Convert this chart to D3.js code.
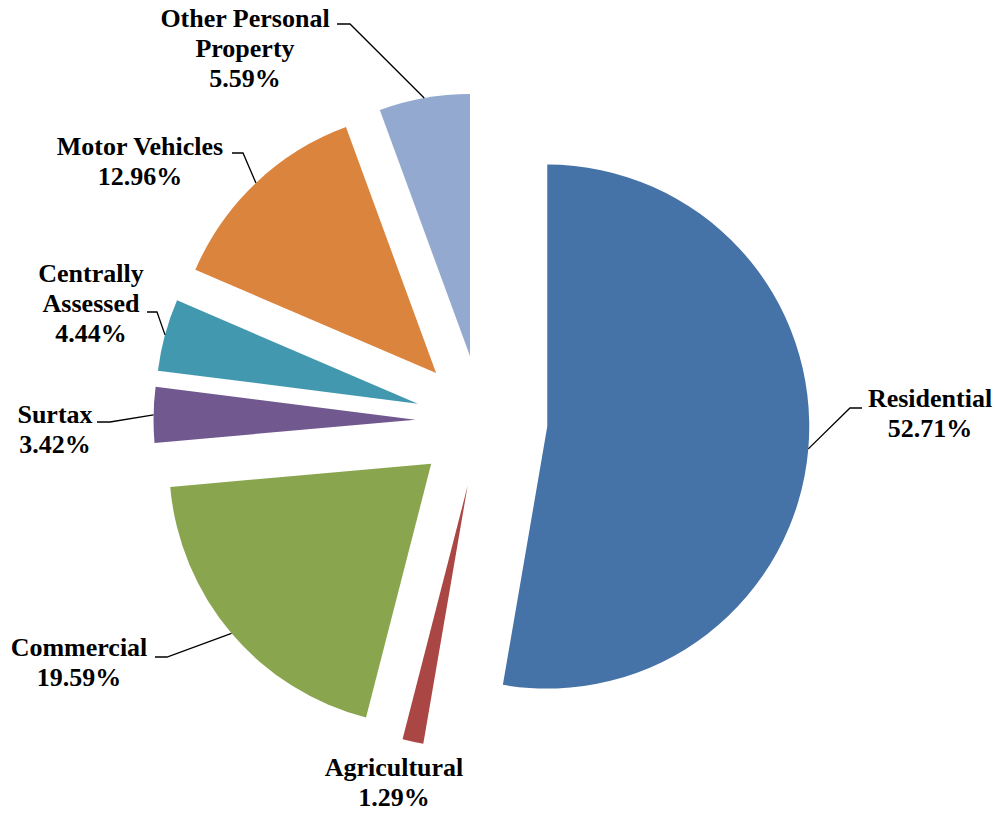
<!DOCTYPE html>
<html>
<head>
<meta charset="utf-8">
<script src="https://cdn.jsdelivr.net/npm/d3@7"></script>
<style>
  body { margin: 0; background: #fff; }
</style>
</head>
<body>
<div id="chart"></div>
<script>
const categories = ['Residential', 'Agricultural', 'Commercial', 'Surtax', 'Centrally Assessed', 'Motor Vehicles', 'Other Personal Property'];
const shares = [52.71, 1.29, 19.59, 3.42, 4.44, 12.96, 5.59];
const labelLines = [
  ['Residential', '52.71%'],
  ['Agricultural', '1.29%'],
  ['Commercial', '19.59%'],
  ['Surtax', '3.42%'],
  ['Centrally', 'Assessed', '4.44%'],
  ['Motor Vehicles', '12.96%'],
  ['Other Personal', 'Property', '5.59%']
];
const colors = ['#4572A7', '#AA4643', '#89A54E', '#71588F', '#4198AF', '#DB843D', '#93A9CF'];

// label placement (Excel style), stub = short horizontal start of leader line
const labelPos = [
  { x: 930, y: 407, stub: [862, 850, 408] },
  { x: 394, y: 776, stub: null },
  { x: 79, y: 656, stub: [155, 167, 657] },
  { x: 55, y: 423, stub: [97, 110, 422] },
  { x: 91, y: 282, stub: [147, 157, 312] },
  { x: 140, y: 155, stub: [232, 243, 153] },
  { x: 245, y: 27, stub: [337, 350, 24] }
];

const W = 999, H = 813;
const cx = 481.5, cy = 421, r = 262, explode = 66;

const svg = d3.select('#chart').append('svg')
  .attr('width', W).attr('height', H);

const pie = d3.pie().sort(null).value(d => d)(shares);
const arc = d3.arc().innerRadius(0).outerRadius(r);

const mid = d => (d.startAngle + d.endAngle) / 2;

const g = svg.append('g').attr('transform', 'translate(' + cx + ',' + cy + ')');

g.selectAll('path.slice')
  .data(pie)
  .enter().append('path')
  .attr('class', 'slice')
  .attr('d', arc)
  .attr('fill', (d, i) => colors[i])
  .attr('transform', d => {
    const a = mid(d);
    return 'translate(' + (explode * Math.sin(a)) + ',' + (-explode * Math.cos(a)) + ')';
  });

// leader lines
pie.forEach((d, i) => {
  const p = labelPos[i];
  if (!p.stub) return;
  const a = mid(d);
  const ex = cx + (explode + r) * Math.sin(a);
  const ey = cy - (explode + r) * Math.cos(a);
  svg.append('polyline')
    .attr('points', [[p.stub[0], p.stub[2]], [p.stub[1], p.stub[2]], [ex, ey]].map(q => q.join(',')).join(' '))
    .attr('fill', 'none')
    .attr('stroke', '#000')
    .attr('stroke-width', 1.3);
});

// labels
labelLines.forEach((lines, i) => {
  const p = labelPos[i];
  const t = svg.append('text')
    .attr('text-anchor', 'middle')
    .attr('font-family', "'Liberation Serif', Tinos, 'Times New Roman', 'DejaVu Serif', serif")
    .attr('font-weight', 'bold')
    .attr('font-size', 26)
    .attr('fill', '#000');
  lines.forEach((s, j) => {
    t.append('tspan').attr('x', p.x).attr('y', p.y + j * 30).text(s);
  });
});
</script>
</body>
</html>
